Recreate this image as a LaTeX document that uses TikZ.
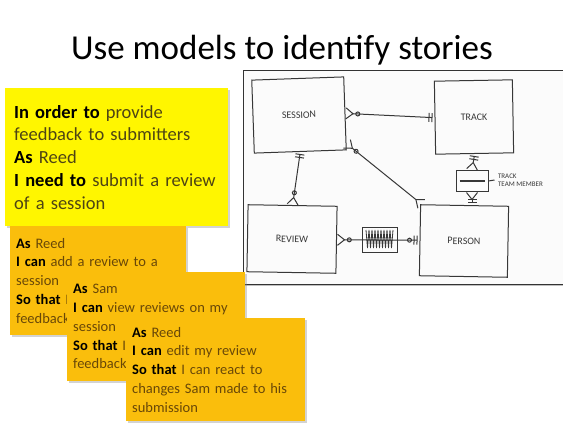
\documentclass[tikz,border=0pt]{standalone}
\usepackage{fontspec}
\setmainfont{Carlito}
\usetikzlibrary{arrows.meta, positioning, shadows, calc}
\definecolor{noteyellow}{RGB}{255,246,0}
\definecolor{noteorange}{RGB}{250,190,12}
\definecolor{inkyellow}{RGB}{78,68,20}
\definecolor{inkorange}{RGB}{105,72,8}
\definecolor{marker}{RGB}{55,55,55}
\definecolor{boardbg}{RGB}{251,251,251}
\newcommand{\kw}[1]{\textbf{\color{black}#1}}

\begin{document}
\begin{tikzpicture}[
    x=1pt, y=-1pt,
    crow/.tip={Straight Barb[reversed, length=7pt, width=11pt]},
    ring/.tip={Circle[open, length=5pt, sep=1.5pt]},
    one/.tip={Bar[width=9pt, sep=2pt]},
    note/.style={
        rectangle, anchor=north west, inner xsep=6pt, inner ysep=0pt,
        align=left, fill=noteorange, text=inkorange,
        font=\fontsize{14.5}{18.7}\selectfont,
        drop shadow={shadow xshift=2pt, shadow yshift=-2pt, opacity=0.35, fill=black!50}
    },
    bignote/.style={note, inner xsep=9pt, fill=noteyellow, text=inkyellow, font=\fontsize{18.5}{22.75}\selectfont},
    entity/.style={rectangle, draw=marker, line width=1pt, text=marker, font=\fontsize{10}{12}\selectfont},
    rel/.style={draw=marker, line width=1pt}
]
    \useasboundingbox (0,0) rectangle (563,423);
    \node (title) at (282,50) {\fontsize{35}{42}\selectfont Use models to identify stories};

    % whiteboard photo
    \fill [black!25] (245,72) rectangle (580,286);
    \draw [fill=boardbg, draw=black!80, line width=0.8pt] (243,70) rectangle (580,284);

    \node [entity, minimum width=92pt, minimum height=73pt, rotate=2]  (session) at (299,115) {SESSION};
    \node [entity, minimum width=78pt, minimum height=73pt, rotate=1]  (track)   at (474,117) {TRACK};
    \node [entity, minimum width=89pt, minimum height=67pt, rotate=-1] (review)  at (292,239) {REVIEW};
    \node [entity, minimum width=88pt, minimum height=71pt, rotate=-1] (person)  at (464,241) {PERSON};
    \node [entity, minimum width=32pt, minimum height=21pt] (role) at (472,181) {};
    \node [entity, minimum width=35pt, minimum height=25pt] (tally) at (380,240) {};
    \node [right=6pt of role, yshift=1pt, align=left, text=marker, font=\fontsize{7}{8.5}\selectfont] (roletxt) {TRACK\\TEAM MEMBER};

    \path [rel, {crow[]ring[]}-{one[]one[]}] (session.east) -- (track.west);
    \path [rel, {crow[]ring[]}-{crow[]}] (session.-33) -- (person.140);
    \path [rel, {one[]one[]}-{ring[]crow[]}] (session.south) -- (review.north);
    \path [rel, {crow[]ring[]}-{ring[]one[]one[]}] (review.east) -- (person.west);
    \path [rel, {one[]one[]}-{crow[]}] (track.south) -- (role.north);
    \path [rel, {crow[]}-{one[]one[]}] (role.south) -- (role.south |- person.north);
    \path [rel] (role.east) -- (roletxt.west);
    % scribbles
    \draw [marker, line width=1.6pt] ($(role.west)+(4,0)$) -- ($(role.east)+(-4,0)$);
    \draw [marker, line width=0.8pt] ($(tally.north west)+(4,3)$)
        \foreach \i in {1,...,9} { -- ++(1.5,18) -- ++(1.5,-18) };

    % story notes
    \node [bignote, minimum width=223pt, minimum height=138pt, text width=205pt] (need) at (5,88)
        {\kw{In order to} provide\\feedback to submitters\\\kw{As} Reed\\\kw{I need to} submit a review\\of a session};
    \node [note, minimum width=176pt, minimum height=109pt, text width=164pt] (addrev) at (10,226)
        {\kw{As} Reed\\\kw{I can} add a review to a\\session\\\kw{So that} I\\feedback};
    \node [note, minimum width=178pt, minimum height=109pt, text width=166pt] (viewrev) at (67,272)
        {\kw{As} Sam\\\kw{I can} view reviews on my\\session\\\kw{So that} I\\feedback};
    \node [note, minimum width=179pt, minimum height=103pt, text width=167pt] (editrev) at (126,318)
        {\kw{As} Reed\\\kw{I can} edit my review\\\kw{So that} I can react to\\changes Sam made to his\\submission};
\end{tikzpicture}
\end{document}
